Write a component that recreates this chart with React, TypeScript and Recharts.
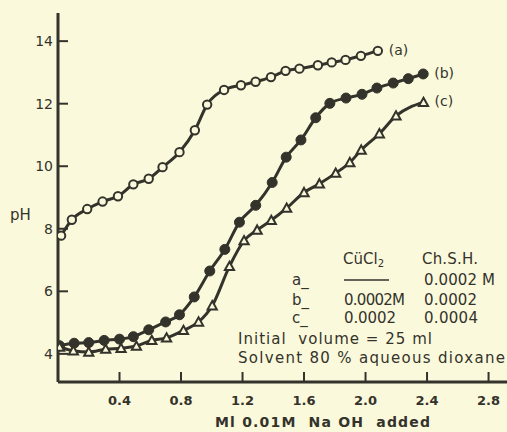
import React from "react";
import { LineChart, Line, XAxis, YAxis, Label } from "recharts";

// ml of 0.01M NaOH added vs. pH, three titrations
const curveA = [
  { x: 0.02, ph: 7.78 }, { x: 0.09, ph: 8.29 }, { x: 0.19, ph: 8.63 }, { x: 0.29, ph: 8.87 },
  { x: 0.39, ph: 9.04 }, { x: 0.49, ph: 9.42 }, { x: 0.59, ph: 9.6 }, { x: 0.68, ph: 9.97 },
  { x: 0.79, ph: 10.45 }, { x: 0.89, ph: 11.15 }, { x: 0.97, ph: 11.97 }, { x: 1.08, ph: 12.44 },
  { x: 1.19, ph: 12.59 }, { x: 1.285, ph: 12.7 }, { x: 1.385, ph: 12.85 }, { x: 1.48, ph: 13.05 },
  { x: 1.57, ph: 13.12 }, { x: 1.69, ph: 13.23 }, { x: 1.78, ph: 13.32 }, { x: 1.87, ph: 13.4 },
  { x: 1.97, ph: 13.53 }, { x: 2.08, ph: 13.69 },
];

const curveB = [
  { x: 0.01, ph: 4.26 }, { x: 0.105, ph: 4.34 }, { x: 0.2, ph: 4.36 }, { x: 0.3, ph: 4.43 },
  { x: 0.4, ph: 4.47 }, { x: 0.49, ph: 4.55 }, { x: 0.59, ph: 4.77 }, { x: 0.7, ph: 5.02 },
  { x: 0.79, ph: 5.25 }, { x: 0.886, ph: 5.82 }, { x: 0.987, ph: 6.65 }, { x: 1.085, ph: 7.34 },
  { x: 1.18, ph: 8.21 }, { x: 1.286, ph: 8.75 }, { x: 1.393, ph: 9.48 }, { x: 1.484, ph: 10.29 },
  { x: 1.58, ph: 10.84 }, { x: 1.676, ph: 11.55 }, { x: 1.768, ph: 12.01 }, { x: 1.873, ph: 12.18 },
  { x: 1.977, ph: 12.3 }, { x: 2.074, ph: 12.5 }, { x: 2.18, ph: 12.66 }, { x: 2.278, ph: 12.8 },
  { x: 2.375, ph: 12.95 },
];

const curveC = [
  { x: 0.01, ph: 4.22 }, { x: 0.1, ph: 4.1 }, { x: 0.2, ph: 4.06 }, { x: 0.31, ph: 4.15 },
  { x: 0.41, ph: 4.18 }, { x: 0.51, ph: 4.25 }, { x: 0.61, ph: 4.43 }, { x: 0.706, ph: 4.51 },
  { x: 0.816, ph: 4.75 }, { x: 0.914, ph: 5.02 }, { x: 1.003, ph: 5.54 }, { x: 1.115, ph: 6.8 },
  { x: 1.21, ph: 7.62 }, { x: 1.295, ph: 7.96 }, { x: 1.387, ph: 8.27 }, { x: 1.487, ph: 8.66 },
  { x: 1.6, ph: 9.16 }, { x: 1.7, ph: 9.44 }, { x: 1.806, ph: 9.78 }, { x: 1.898, ph: 10.12 },
  { x: 1.972, ph: 10.52 }, { x: 2.09, ph: 11.04 }, { x: 2.198, ph: 11.61 }, { x: 2.377, ph: 12.04 },
];

const xTicks = [0.4, 0.8, 1.2, 1.6, 2.0, 2.4, 2.8];
const yTicks = [4, 6, 8, 10, 12, 14];

const INK = "#33332b";
const PAPER = "#fbf9dc";
const FONT = "DejaVu Sans, sans-serif";

const XTick = ({ x, y, payload }: any) => (
  <g>
    <line x1={x} y1={y} x2={x} y2={y - 10} stroke={INK} strokeWidth={2} />
    <text x={x} y={y + 23} textAnchor="middle" fill={INK} fontSize={13} fontWeight="bold" fontFamily={FONT}>
      {payload.value.toFixed(1)}
    </text>
  </g>
);

const YTick = ({ x, y, payload }: any) => (
  <g>
    <line x1={x} y1={y} x2={x + 10} y2={y} stroke={INK} strokeWidth={2} />
    <text x={x - 5} y={y + 5} textAnchor="end" fill={INK} fontSize={14} fontFamily={FONT}>
      {payload.value}
    </text>
  </g>
);

const openCircle = (props: any) => (
  <circle key={props.index} cx={props.cx} cy={props.cy} r={4.2} fill={PAPER} stroke={INK} strokeWidth={2} />
);

const filledCircle = (props: any) => (
  <circle key={props.index} cx={props.cx} cy={props.cy} r={5} fill={INK} stroke={INK} strokeWidth={1} />
);

const triangle = (props: any) => {
  const { cx, cy, index } = props;
  const s = 4.6;
  return (
    <path
      key={index}
      d={`M${cx},${cy - s} L${cx + s},${cy + s * 0.8} L${cx - s},${cy + s * 0.8} Z`}
      fill={PAPER}
      stroke={INK}
      strokeWidth={2}
    />
  );
};

// "(a)", "(b)", "(c)" next to the last point of each curve
const endTag = (tag: string, len: number) => (props: any) => {
  if (props.index !== len - 1) return <g key={props.index} />;
  return (
    <text key={props.index} x={props.x + 11} y={props.y + 4} fill={INK} fontSize={14} fontFamily={FONT}>
      {tag}
    </text>
  );
};

const txt = { fill: INK, fontSize: 15, fontFamily: FONT } as const;

export default function App() {
  return (
    <div style={{ position: "absolute", left: 0, top: 0, width: 507, height: 432, background: PAPER }}>
      <LineChart width={507} height={432} margin={{ top: 13, right: 0, bottom: 0, left: 0 }}>
        <XAxis
          dataKey="x"
          type="number"
          domain={[0, 2.92]}
          ticks={xTicks}
          allowDataOverflow
          height={50}
          tickSize={0}
          tickMargin={0}
          tick={<XTick />}
          stroke={INK}
          strokeWidth={3}
        >
          <Label
            content={({ viewBox }: any) => (
              <text
                x={viewBox.x + 157}
                y={viewBox.y + 45}
                fill={INK}
                fontSize={14}
                fontWeight="bold"
                fontFamily={FONT}
                textLength={215}
                lengthAdjust="spacing"
                style={{ whiteSpace: "pre" }}
              >
                {"Ml 0.01M  Na OH  added"}
              </text>
            )}
          />
        </XAxis>
        <YAxis
          dataKey="ph"
          type="number"
          domain={[3.1, 14.9]}
          ticks={yTicks}
          allowDataOverflow
          width={58}
          tickSize={0}
          tickMargin={0}
          tick={<YTick />}
          stroke={INK}
          strokeWidth={3}
        >
          <Label
            content={({ viewBox }: any) => (
              <text x={viewBox.x + 10} y={viewBox.y + 207} fill={INK} fontSize={15} fontFamily={FONT}>
                pH
              </text>
            )}
          />
        </YAxis>
        <Line
          data={curveA}
          dataKey="ph"
          type="monotone"
          stroke={INK}
          strokeWidth={3}
          dot={openCircle}
          label={endTag("(a)", curveA.length)}
          isAnimationActive={false}
        />
        <Line
          data={curveB}
          dataKey="ph"
          type="monotone"
          stroke={INK}
          strokeWidth={3}
          dot={filledCircle}
          label={endTag("(b)", curveB.length)}
          isAnimationActive={false}
        />
        <Line
          data={curveC}
          dataKey="ph"
          type="monotone"
          stroke={INK}
          strokeWidth={3}
          dot={triangle}
          label={endTag("(c)", curveC.length)}
          isAnimationActive={false}
        />
      </LineChart>
      <svg
        width={507}
        height={432}
        style={{ position: "absolute", left: 0, top: 0, pointerEvents: "none" }}
      >
        <text x={343} y={264} {...txt}>
          CüCl<tspan fontSize={10} dy={3}>2</tspan>
        </text>
        <text x={422} y={264} {...txt} textLength={56} lengthAdjust="spacing">Ch.S.H.</text>
        <text x={292} y={285} {...txt}>a_</text>
        <line x1={344} y1={280} x2={389} y2={280} stroke={INK} strokeWidth={1.5} />
        <text x={424} y={285} {...txt} textLength={71} lengthAdjust="spacing">0.0002 M</text>
        <text x={292} y={305} {...txt}>b_</text>
        <text x={344} y={305} {...txt} textLength={61} lengthAdjust="spacing">0.0002M</text>
        <text x={424} y={305} {...txt} textLength={53} lengthAdjust="spacing">0.0002</text>
        <text x={292} y={323} {...txt}>c_</text>
        <text x={344} y={323} {...txt} textLength={52} lengthAdjust="spacing">0.0002</text>
        <text x={424} y={323} {...txt} textLength={54} lengthAdjust="spacing">0.0004</text>
        <text x={238} y={344} {...txt} textLength={194} lengthAdjust="spacing" style={{ whiteSpace: "pre" }}>
          {"Initial  volume = 25 ml"}
        </text>
        <text x={238} y={363} {...txt} textLength={267} lengthAdjust="spacing" style={{ whiteSpace: "pre" }}>
          {"Solvent 80 % aqueous dioxane"}
        </text>
      </svg>
    </div>
  );
}
